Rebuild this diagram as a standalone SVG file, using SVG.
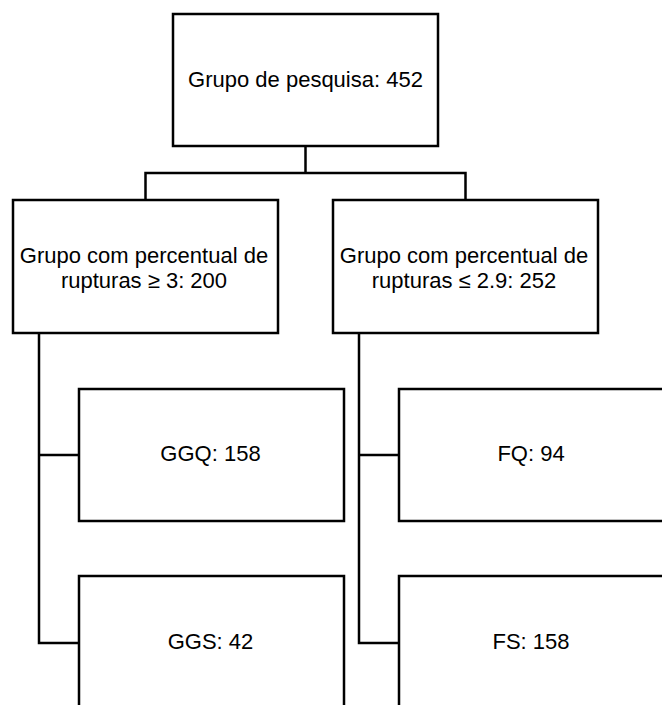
<svg xmlns="http://www.w3.org/2000/svg" width="662" height="705" viewBox="0 0 662 705">
<style>
.box{fill:#fff;stroke:#000;stroke-width:2.5}
.lbl{font-family:"Liberation Sans",Arial,sans-serif;font-size:22px;fill:#000;text-anchor:middle}
.con{fill:none;stroke:#000;stroke-width:2.5}
</style>
<rect width="662" height="705" fill="#fff"/>
<g id="connectors">
<path class="con" d="M305.5 146V173M145.5 200V173H465.5V200"/>
<path class="con" d="M39 333V643H79M39 455H79"/>
<path class="con" d="M359 333V643H399M359 455H399"/>
</g>
<g id="root"><rect class="box" x="173" y="14" width="265" height="132"/><text class="lbl" x="305.5" y="87">Grupo de pesquisa: 452</text></g>
<g id="high"><rect class="box" x="13" y="200" width="265" height="133"/><text class="lbl" x="144" y="263">Grupo com percentual de</text><text class="lbl" x="144" y="288">rupturas ≥ 3: 200</text></g>
<g id="low"><rect class="box" x="333" y="200" width="265" height="133"/><text class="lbl" x="464" y="263">Grupo com percentual de</text><text class="lbl" x="464" y="288">rupturas ≤ 2.9: 252</text></g>
<g id="ggq"><rect class="box" x="79" y="389" width="265" height="132"/><text class="lbl" x="210.5" y="461">GGQ: 158</text></g>
<g id="ggs"><rect class="box" x="79" y="576" width="265" height="140"/><text class="lbl" x="210.5" y="649">GGS: 42</text></g>
<g id="fq"><rect class="box" x="399" y="389" width="300" height="132"/><text class="lbl" x="531" y="461">FQ: 94</text></g>
<g id="fs"><rect class="box" x="399" y="576" width="300" height="140"/><text class="lbl" x="531" y="649">FS: 158</text></g>
</svg>
